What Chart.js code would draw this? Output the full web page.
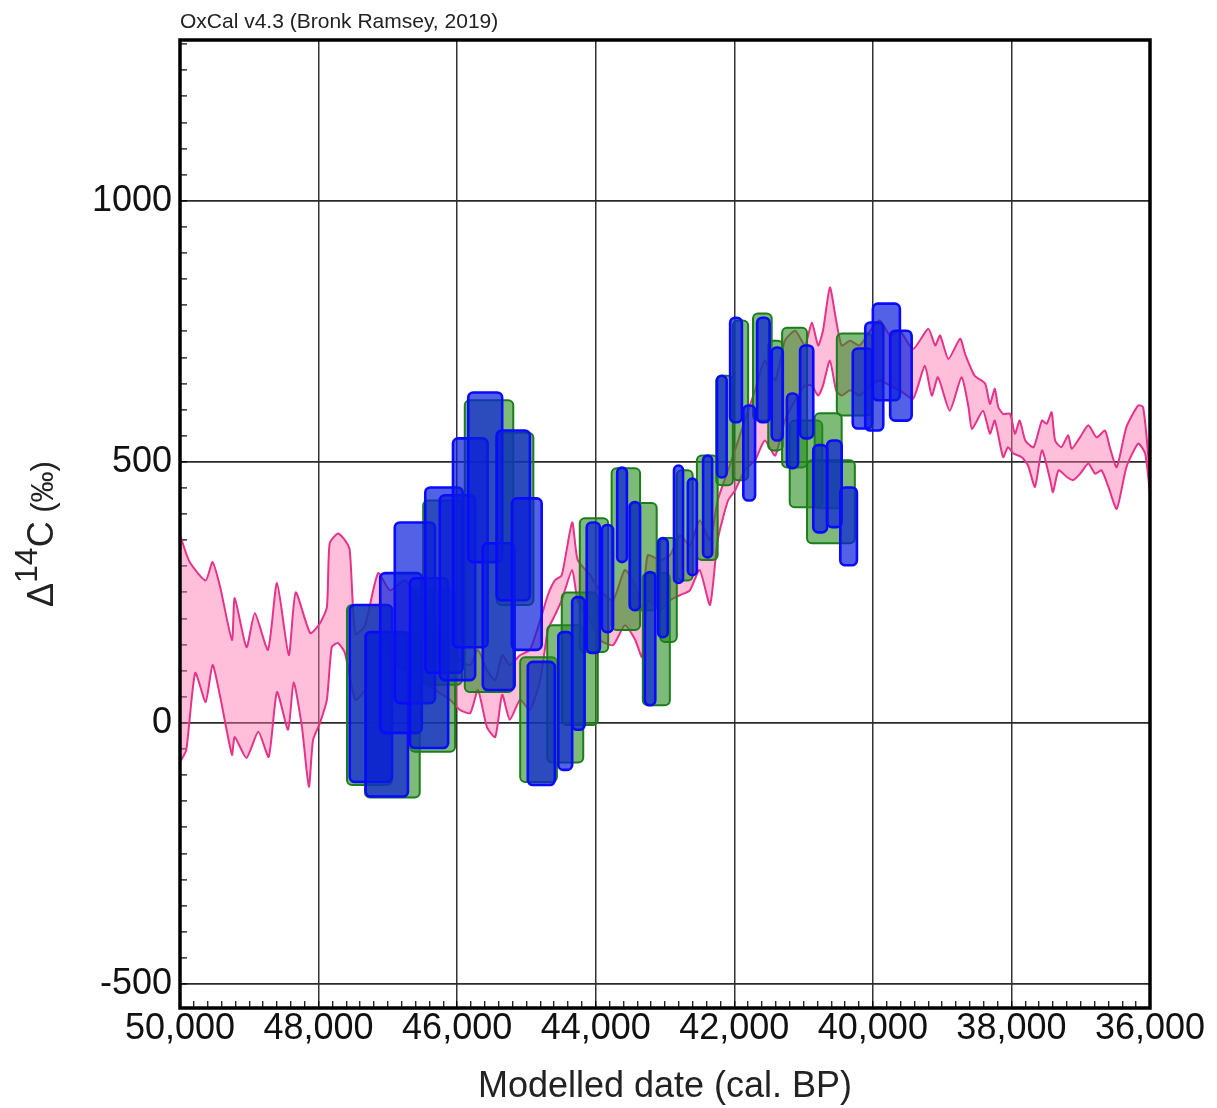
<!DOCTYPE html>
<html>
<head>
<meta charset="utf-8">
<script src="https://cdn.jsdelivr.net/npm/chart.js@4/dist/chart.umd.min.js"></script>
<style>
  body { margin: 0; background: #fff; }
  #wrap { width: 1217px; height: 1108px; }
</style>
</head>
<body>
<div id="wrap"><canvas id="my-chart"></canvas></div>
<script>
const chartTitle = 'OxCal v4.3 (Bronk Ramsey, 2019)';
const xTitle = 'Modelled date (cal. BP)';

// calibration curve, upper and lower edge (cal BP, Δ14C ‰)
const upperBP = [50000, 49860, 49630, 49530, 49420, 49250, 49210, 49040, 48920, 48730, 48600, 48430, 48330, 48120, 47980, 47880, 47840, 47720, 47620, 47550,
  47470, 47330, 47140, 46970, 46750, 46540, 46320, 46100, 45960, 45810, 45700, 45570, 45450, 45350, 45240, 45090, 44950, 44800, 44690, 44590, 44490, 44340, 44260, 44080, 43940, 43750, 43580, 43430, 43330, 43250, 43070, 42930, 42780, 42640, 42500, 42350, 42240, 42090, 41990, 41850, 41700, 41560, 41410, 41270, 41120, 40980, 40880, 40790, 40720, 40620, 40530, 40450, 40330, 40190, 40040, 39900, 39750, 39610,
  39420, 39200, 39100, 39030, 38910, 38740, 38670, 38530, 38380, 38310, 38240, 38190, 38120, 38020, 37950, 37880, 37800, 37680, 37560, 37490, 37420, 37370, 37280, 37180, 37130, 37010, 36890, 36770, 36650, 36580, 36480, 36340, 36170, 36100, 36020, 36000];
const upperD14C = [360, 308, 273, 308, 260, 159, 239, 145, 210, 140, 268, 130, 250, 172, 191, 222, 344, 363, 350, 331,
  170, 187, 287, 254, 273, 235, 197, 159, 120, 111, 140, 101, 82, 130, 111, 130, 140, 197, 245, 273, 283, 384, 312, 283, 254, 235, 293, 264, 216, 321, 312, 321, 359, 340, 388, 350, 426, 484, 522, 579, 637, 694, 656, 732, 751, 723, 767, 723, 751, 834, 771, 723, 732, 723, 751, 771, 742, 751,
  716, 755, 723, 742, 697, 736, 707, 665, 650, 611, 640, 605, 592, 592, 554, 579, 541, 528, 579, 573, 595, 541, 528, 551, 525, 547, 570, 547, 560, 528, 490, 567, 608, 605, 503, 440];

const lowerBP = [50000, 49910, 49780, 49630, 49530, 49420, 49250, 49210, 49040, 48870, 48720, 48600, 48440, 48360, 48240, 48140, 48080, 47980, 47880, 47810, 47720, 47620,
  47470, 47330, 47140, 46970, 46750, 46540, 46320, 46100, 45960, 45810, 45700, 45570, 45450, 45350, 45240, 45090, 44950, 44800, 44690, 44590, 44490, 44340, 44260, 44080, 43940, 43750, 43580, 43430, 43330, 43250, 43070, 42930, 42780, 42640, 42500, 42350, 42240, 42090, 41990, 41850, 41700, 41560, 41410, 41270, 41120, 40980, 40880, 40790, 40720, 40620, 40530, 40450, 40330, 40190, 40040, 39900, 39750, 39610,
  39420, 39250, 39150, 39060, 38890, 38720, 38620, 38570, 38410, 38310, 38240, 38120, 38050, 37970, 37850, 37760, 37660, 37560, 37440, 37400, 37320, 37200, 37110, 37010, 36890, 36790, 36700, 36600, 36480, 36340, 36170, 36070, 36000];
const lowerD14C = [-75, -52, 96, 40, 111, 50, -61, -27, -67, -17, -65, 59, -13, 78, -8, -122, -33, 0, 44, 145, 153, 134,
  44, 63, 140, 120, 101, 82, 63, 44, 25, 19, 63, -8, -27, 54, 6, 44, 25, 82, 178, 206, 235, 293, 235, 197, 159, 149, 187, 159, 126, 235, 216, 235, 245, 254, 293, 226, 350, 426, 445, 484, 503, 541, 512, 579, 618, 646, 646, 627, 646, 694, 637, 627, 637, 627, 646, 656, 646, 637,
  621, 684, 627, 662, 598, 662, 605, 563, 598, 554, 579, 509, 528, 516, 509, 493, 452, 522, 465, 442, 484, 471, 465, 477, 497, 477, 484, 452, 410, 490, 535, 516, 440];

// green boxes: date range (older -> younger) and Δ14C range
const greenFrom = [47590, 47330, 46680, 46490, 45890, 45430, 45090, 44700, 44490, 44230, 43770, 43500, 43320, 43070, 42830, 42540, 42260, 42020, 41730, 41510, 41310, 41200, 40840, 40950, 40520];
const greenTo   = [46940, 46540, 46030, 45930, 45190, 44900, 44560, 44180, 43970, 43820, 43360, 43120, 42930, 42830, 42600, 42240, 42020, 41800, 41460, 41300, 40950, 40730, 40450, 40260, 40010];
const greenLow  = [-119, -143, -55, 73, 59, 226, -113, -76, -4, 136, 178, 216, 34, 155, 273, 312, 455, 465, 579, 522, 489, 413, 411, 344, 589];
const greenHigh = [226, 174, 254, 426, 618, 556, 126, 187, 250, 392, 488, 421, 287, 354, 484, 512, 665, 771, 784, 732, 757, 579, 593, 503, 746];

// blue boxes
const blueFrom = [47550, 47320, 47110, 46900, 46680, 46460, 46250, 46060, 45840, 45630, 45430, 45210, 44980, 44540, 44340, 44130, 43910, 43690, 43510, 43290, 43100, 42870, 42670, 42450, 42250, 42060, 41870, 41670, 41460, 41240, 41050, 40860, 40660, 40470, 40290, 40110, 40000, 39750];
const blueTo   = [46940, 46710, 46510, 46320, 46130, 45920, 45740, 45560, 45350, 45170, 44950, 44780, 44590, 44340, 44160, 43940, 43750, 43550, 43360, 43140, 42960, 42740, 42540, 42320, 42110, 41890, 41700, 41490, 41300, 41080, 40860, 40660, 40450, 40230, 40010, 39850, 39610, 39440];
const blueLow  = [-113, -141, -19, 38, -48, 96, 82, 145, 308, 63, 235, 140, -119, -90, -13, 134, 174, 308, 216, 34, 164, 268, 283, 317, 470, 576, 426, 576, 541, 488, 545, 365, 375, 302, 564, 560, 618, 579];
const blueHigh = [226, 174, 287, 384, 277, 451, 436, 545, 633, 344, 560, 430, 117, 174, 241, 384, 379, 489, 423, 289, 354, 493, 468, 512, 665, 776, 608, 776, 719, 631, 723, 532, 541, 451, 717, 767, 803, 751];

const FONT = '"Liberation Sans", Arial, sans-serif';

const boxPlugin = {
  id: 'boxes',
  afterDatasetsDraw(chart) {
    const { ctx, chartArea, scales } = chart;
    const drawBoxes = (from, to, low, high, fill, stroke, lw) => {
      for (let i = 0; i < from.length; i++) {
        const x1 = scales.x.getPixelForValue(from[i]);
        const x2 = scales.x.getPixelForValue(to[i]);
        const y1 = scales.y.getPixelForValue(high[i]);
        const y2 = scales.y.getPixelForValue(low[i]);
        ctx.beginPath();
        ctx.roundRect(Math.min(x1, x2), y1, Math.abs(x2 - x1), y2 - y1, 5);
        ctx.fillStyle = fill;
        ctx.fill();
        ctx.lineWidth = lw;
        ctx.strokeStyle = stroke;
        ctx.stroke();
      }
    };
    ctx.save();
    ctx.beginPath();
    ctx.rect(chartArea.left, chartArea.top, chartArea.width, chartArea.height);
    ctx.clip();
    drawBoxes(greenFrom, greenTo, greenLow, greenHigh, 'rgba(40,140,30,0.6)', '#1c7d1c', 2);
    drawBoxes(blueFrom, blueTo, blueLow, blueHigh, 'rgba(10,30,220,0.7)', '#0a0aff', 2.6);
    ctx.restore();
  }
};

const decorPlugin = {
  id: 'decor',
  afterDraw(chart) {
    const { ctx, chartArea } = chart;
    ctx.save();
    // frame
    ctx.lineWidth = 3.5;
    ctx.strokeStyle = '#000';
    ctx.strokeRect(chartArea.left, chartArea.top, chartArea.width, chartArea.height);
    // title
    ctx.fillStyle = '#222';
    ctx.font = '21px ' + FONT;
    ctx.textAlign = 'left';
    ctx.textBaseline = 'alphabetic';
    ctx.fillText(chartTitle, chartArea.left, 28);
    // x axis title
    ctx.font = '36px ' + FONT;
    ctx.textAlign = 'center';
    ctx.fillText(xTitle, (chartArea.left + chartArea.right) / 2, chartArea.bottom + 89);
    // y axis title: Δ 14C (‰)
    ctx.translate(53, 607);
    ctx.rotate(-Math.PI / 2);
    ctx.textAlign = 'left';
    let pos = 0;
    const part = (txt, size, rise) => {
      ctx.font = size + 'px ' + FONT;
      ctx.fillText(txt, pos, -rise);
      pos += ctx.measureText(txt).width;
    };
    part('Δ', 36, 0);
    part('14', 32, 16);
    part('C', 36, 0);
    part(' (‰)', 31, 0);
    ctx.restore();
  }
};

const ctx = document.querySelector('#my-chart').getContext('2d');
const chart = new Chart(ctx, {
  type: 'line',
  data: {
    datasets: [
      {
        label: 'upper',
        data: upperBP.map((v, i) => ({ x: v, y: upperD14C[i] })),
        borderColor: '#e6338a',
        borderWidth: 2,
        pointRadius: 0,
        tension: 0.2,
        fill: false
      },
      {
        label: 'lower',
        data: lowerBP.map((v, i) => ({ x: v, y: lowerD14C[i] })),
        borderColor: '#e6338a',
        backgroundColor: 'rgba(255,110,170,0.45)',
        borderWidth: 2,
        pointRadius: 0,
        tension: 0.2,
        fill: '-1'
      }
    ]
  },
  options: {
    responsive: true,
    maintainAspectRatio: false,
    animation: false,
    layout: { padding: { top: 40, right: 67, left: 0, bottom: 0 } },
    plugins: {
      legend: { display: false },
      tooltip: { enabled: false },
      title: { display: false }
    },
    scales: {
      x: {
        type: 'linear',
        reverse: true,
        min: 36000,
        max: 50000,
        afterFit: (s) => { s.height = 100; },
        border: { display: false },
        grid: {
          color: (c) => (c.tick && c.tick.value % 2000 === 0) ? '#333' : 'rgba(0,0,0,0)',
          lineWidth: 1.5,
          drawTicks: true,
          tickLength: -7,
          tickColor: '#000',
          tickWidth: 1.2
        },
        ticks: {
          stepSize: 200,
          autoSkip: false,
          maxRotation: 0,
          includeBounds: false,
          padding: 6,
          color: '#111',
          font: { family: FONT, size: 36 },
          callback: (v) => v % 2000 === 0 ? v.toLocaleString('en-US') : ''
        }
      },
      y: {
        type: 'linear',
        min: -546,
        max: 1308,
        afterFit: (s) => { s.width = 180; },
        border: { display: false },
        grid: {
          color: (c) => (c.tick && c.tick.value % 500 === 0) ? '#2a2a2a' : 'rgba(0,0,0,0)',
          lineWidth: 1.8,
          drawTicks: true,
          tickLength: -7,
          tickColor: '#000',
          tickWidth: 1.2
        },
        ticks: {
          stepSize: 50,
          autoSkip: false,
          includeBounds: false,
          padding: 15,
          color: '#111',
          font: { family: FONT, size: 36 },
          callback: (v) => v % 500 === 0 ? String(v) : ''
        }
      }
    }
  },
  plugins: [boxPlugin, decorPlugin]
});
</script>
</body>
</html>
